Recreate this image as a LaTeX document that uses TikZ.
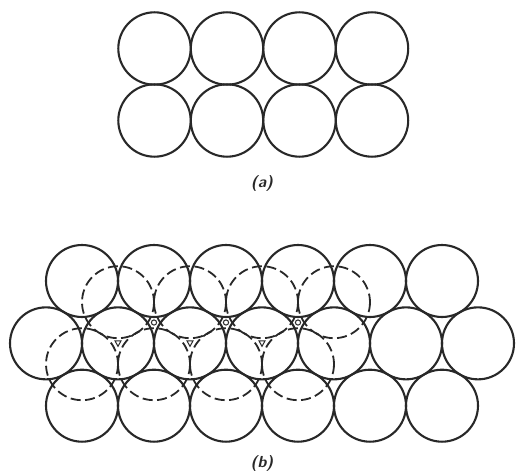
\documentclass[tikz,border=0pt]{standalone}
\usetikzlibrary{calc}
\definecolor{ink}{RGB}{40,40,40}
\tikzset{
  ball/.style={draw=ink, line width=2.1pt},
  dball/.style={draw=ink, line width=1.8pt, dash pattern=on 10pt off 4.5pt},
  sitemark/.style={draw=ink, line width=1pt},
  lab/.style={font=\fontsize{16}{18}\selectfont\sffamily\bfseries\itshape, text=ink}
}
\begin{document}
\begin{tikzpicture}[x=1pt,y=-1pt]
\useasboundingbox (0,0) rectangle (517,471);
\fill[white] (0,0) rectangle (517,471);
% (a) square array
\foreach \i in {0,...,3}{
  \foreach \yy in {48.5,120.5}{
    \draw[ball] (154.5+72.5*\i,\yy) circle (36.2);
  }
}
\node[lab] (la) at (262,183) {(a)};
% (b) close-packed layer
\foreach \i in {0,...,5}{
  \draw[ball] (82+72*\i,281) circle (36);
  \draw[ball] (82+72*\i,405.7) circle (36);
}
\foreach \i in {0,...,6}{
  \draw[ball] (46+72*\i,343.35) circle (36);
}
% second layer (dashed) in hollows
\foreach \i in {0,...,3}{
  \draw[dball] (118+72*\i,302.2) circle (36);
  \draw[dball] (82+72*\i,364.2) circle (36);
}
% small markers
\foreach \i in {0,...,2}{
  \draw[sitemark] ($(118+72*\i,343.35)+(-3,-2.5)$) -- ++(6,0) -- ++(-3,5.5) -- cycle;
  \draw[sitemark] (154+72*\i,322.5) circle (2.6);
}
\node[lab] (lb) at (262,463) {(b)};
\end{tikzpicture}
\end{document}
